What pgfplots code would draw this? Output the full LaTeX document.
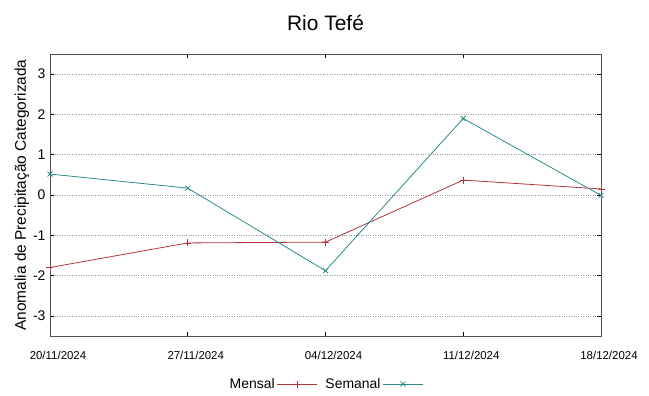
\documentclass[border=0pt]{standalone}
\usepackage{pgfplots}
\pgfplotsset{compat=1.18}
\usepackage{graphicx}
\usepackage{fontspec}
\setmainfont{Liberation Sans}
\definecolor{mensal}{HTML}{B0353C}
\definecolor{semanal}{HTML}{2E8A8A}
\definecolor{axgray}{HTML}{505050}
\begin{document}
\begin{tikzpicture}
\begin{axis}[
  scale only axis,
  width=551bp, height=282bp,
  xmin=0, xmax=4, ymin=-3.5, ymax=3.5,
  xtick={0,1,2,3,4},
  xticklabels={20/11/2024,27/11/2024,04/12/2024,11/12/2024,18/12/2024},
  ytick={-3,-2,-1,0,1,2,3},
  /pgf/number format/assume math mode=true,
  tick label style={font=\fontsize{14}{16}\selectfont},
  xticklabel style={font=\fontsize{11.5}{13}\selectfont, yshift=-12bp, xshift=8bp},
  yticklabel style={xshift=-1bp},
  tick align=inside,
  major tick length=4bp,
  tick style={black, line width=0.6pt},
  axis line style={axgray, line width=0.8pt},
  ymajorgrids,
  grid style={gray!80, dotted, line width=0.6pt},
  ylabel={Anomalia de Precipitação Categorizada},
  ylabel style={font=\fontsize{15.5}{17}\selectfont, yshift=-3bp},
  title={Rio Tefé},
  title style={font=\fontsize{21}{24}\selectfont, yshift=14bp},
  legend columns=2,
  legend plot pos=right,
  legend style={draw=none, fill=none, at={(0.5,-0.135)}, anchor=north,
    font=\fontsize{14}{16}\selectfont,
    /tikz/every even column/.append style={column sep=6bp}},
  legend image code/.code={\draw[#1] (0bp,0bp) -- (40bp,0bp); \draw[#1, only marks] plot coordinates {(20bp,0bp)};},
]
\addplot[mensal, line width=0.8pt, mark=+, mark size=3.5bp] coordinates {
 (0,-1.80) (1,-1.19) (2,-1.17) (3,0.37) (4,0.15)
};
\addlegendentry{Mensal}
\addplot[semanal, line width=0.8pt, mark=x, mark size=3.5bp] coordinates {
 (0,0.52) (1,0.17) (2,-1.88) (3,1.90) (4,-0.01)
};
\addlegendentry{Semanal}
\coordinate (sw) at (rel axis cs:0,0);
\coordinate (ne) at (rel axis cs:1,1);
\end{axis}
\pgfresetboundingbox
\path ([shift={(-50bp,-60bp)}]sw) rectangle ([shift={(48bp,54bp)}]ne);
\end{tikzpicture}
\end{document}
